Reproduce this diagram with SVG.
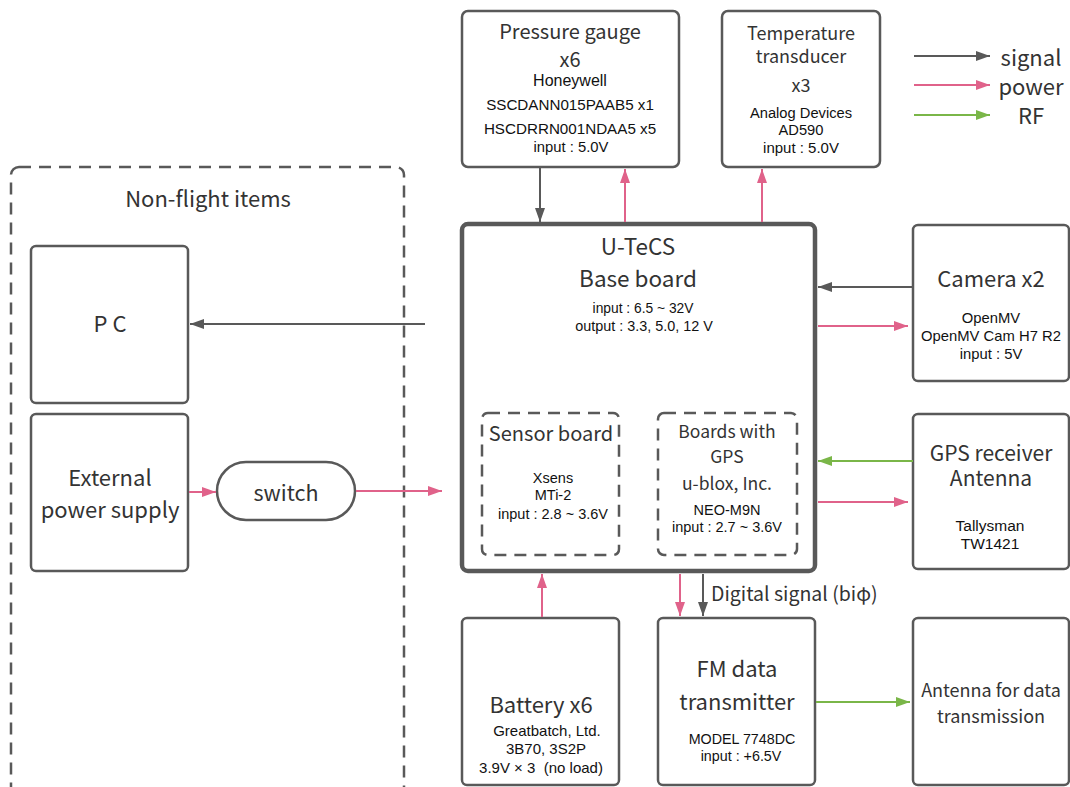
<svg xmlns="http://www.w3.org/2000/svg" width="1070" height="787" viewBox="0 0 1070 787">
<defs>
<marker id="ag" markerWidth="14" markerHeight="10" refX="14" refY="5" orient="auto" markerUnits="userSpaceOnUse"><path d="M0,0 L14,5 L0,10 Z" fill="#595959"/></marker>
<marker id="ap" markerWidth="14" markerHeight="10" refX="14" refY="5" orient="auto" markerUnits="userSpaceOnUse"><path d="M0,0 L14,5 L0,10 Z" fill="#e0628a"/></marker>
<marker id="ar" markerWidth="14" markerHeight="10" refX="14" refY="5" orient="auto" markerUnits="userSpaceOnUse"><path d="M0,0 L14,5 L0,10 Z" fill="#7ab648"/></marker>
</defs>
<style>
.box{fill:#fff;stroke:#595959;stroke-width:2.5}
.thick{fill:#fff;stroke:#595959;stroke-width:4.5}
.dash{fill:none;stroke:#595959;stroke-width:2.5;stroke-dasharray:12 8}
.h{font-family:"Noto Sans CJK JP","Noto Sans",sans-serif;fill:#333;text-anchor:middle}
.s{font-family:"Liberation Sans",Arial,sans-serif;fill:#111;text-anchor:middle;font-size:14.5px}
.sig{stroke:#595959;stroke-width:2;fill:none;marker-end:url(#ag)}
.pow{stroke:#e0628a;stroke-width:2;fill:none;marker-end:url(#ap)}
.rf{stroke:#7ab648;stroke-width:2;fill:none;marker-end:url(#ar)}
</style>
<rect width="1070" height="787" fill="#fff"/>

<g id="nonflight">
<rect class="dash" x="11" y="167" width="393" height="640" rx="8"/>
<text class="h" x="208" y="207" font-size="22">Non-flight items</text>
</g>

<g id="pc">
<rect class="box" x="31" y="246" width="157" height="157" rx="5"/>
<text class="h" x="110" y="332" font-size="22">P C</text>
</g>

<g id="extpower">
<rect class="box" x="31" y="414" width="157" height="157" rx="5"/>
<text class="h" x="110" y="486" font-size="22">External</text>
<text class="h" x="110" y="518" font-size="22">power supply</text>
</g>

<g id="switch">
<rect class="box" x="217" y="462" width="138" height="58" rx="29"/>
<text class="h" x="286" y="501" font-size="21.5">switch</text>
</g>

<g id="pressure">
<rect class="box" x="462" y="11" width="217" height="156" rx="6"/>
<text class="h" x="570" y="39" font-size="20">Pressure gauge</text>
<text class="h" x="570" y="67" font-size="20">x6</text>
<text class="s" x="570" y="86" style="font-size:16px">Honeywell</text>
<text class="s" x="570" y="110" style="font-size:15.2px">SSCDANN015PAAB5 x1</text>
<text class="s" x="570" y="134" style="font-size:15.2px">HSCDRRN001NDAA5 x5</text>
<text class="s" x="571" y="152" style="font-size:14.8px">input : 5.0V</text>
</g>

<g id="temperature">
<rect class="box" x="722" y="11" width="158" height="156" rx="6"/>
<text class="h" x="801" y="40" font-size="18">Temperature</text>
<text class="h" x="801" y="63" font-size="18">transducer</text>
<text class="h" x="801" y="92" font-size="18">x3</text>
<text class="s" x="801" y="118" style="font-size:14.7px">Analog Devices</text>
<text class="s" x="801" y="135" style="font-size:14.7px">AD590</text>
<text class="s" x="801" y="153" style="font-size:15px">input : 5.0V</text>
</g>

<g id="legend">
<line class="sig" x1="914" y1="56" x2="990" y2="56"/>
<line class="pow" x1="914" y1="85" x2="990" y2="85"/>
<line class="rf" x1="914" y1="115" x2="990" y2="115"/>
<text class="h" x="1031" y="66" font-size="22">signal</text>
<text class="h" x="1031" y="95" font-size="22">power</text>
<text class="h" x="1031" y="124" font-size="22">RF</text>
</g>

<g id="baseboard">
<rect class="thick" x="462" y="224" width="353" height="347" rx="6"/>
<text class="h" x="638" y="255" font-size="22.5">U-TeCS</text>
<text class="h" x="638" y="287" font-size="22.5">Base board</text>
<text class="s" x="643" y="313" style="font-size:13.8px">input : 6.5 ~ 32V</text>
<text class="s" x="644" y="331" style="font-size:14.4px">output : 3.3, 5.0, 12 V</text>
</g>

<g id="sensorboard">
<rect class="dash" x="482" y="413" width="137" height="142" rx="6"/>
<text class="h" x="551" y="441" font-size="20">Sensor board</text>
<text class="s" x="553" y="483">Xsens</text>
<text class="s" x="553" y="500">MTi-2</text>
<text class="s" x="553" y="519">input : 2.8 ~ 3.6V</text>
</g>

<g id="gpsboard">
<rect class="dash" x="658" y="413" width="139" height="142" rx="6"/>
<text class="h" x="727" y="438" font-size="17.5">Boards with</text>
<text class="h" x="727" y="463" font-size="17.5">GPS</text>
<text class="h" x="727" y="490" font-size="17.5">u-blox, Inc.</text>
<text class="s" x="727" y="515">NEO-M9N</text>
<text class="s" x="727" y="532">input : 2.7 ~ 3.6V</text>
</g>

<g id="camera">
<rect class="box" x="913" y="225" width="156" height="156" rx="5"/>
<text class="h" x="991" y="287" font-size="22">Camera x2</text>
<text class="s" x="991" y="323" style="font-size:14.8px">OpenMV</text>
<text class="s" x="991" y="341" style="font-size:14.8px">OpenMV Cam H7 R2</text>
<text class="s" x="991" y="359" style="font-size:14.8px">input : 5V</text>
</g>

<g id="gpsantenna">
<rect class="box" x="913" y="414" width="156" height="155" rx="5"/>
<text class="h" x="991" y="461" font-size="21">GPS receiver</text>
<text class="h" x="991" y="486" font-size="21">Antenna</text>
<text class="s" x="990" y="531" style="font-size:15.5px">Tallysman</text>
<text class="s" x="990" y="549" style="font-size:15.5px">TW1421</text>
</g>

<g id="battery">
<rect class="box" x="462" y="618" width="157" height="167" rx="5"/>
<text class="h" x="541" y="713" font-size="22">Battery x6</text>
<text class="s" x="547" y="736" style="font-size:15px">Greatbatch, Ltd.</text>
<text class="s" x="546" y="754" style="font-size:15px">3B70, 3S2P</text>
<text class="s" x="541" y="773" style="font-size:15px" xml:space="preserve">3.9V × 3  (no load)</text>
</g>

<g id="fm">
<rect class="box" x="658" y="618" width="157" height="167" rx="5"/>
<text class="h" x="737" y="677" font-size="22">FM data</text>
<text class="h" x="737" y="710" font-size="22">transmitter</text>
<text class="s" x="742" y="744" style="font-size:14.3px">MODEL 7748DC</text>
<text class="s" x="741" y="761" style="font-size:14.3px">input : +6.5V</text>
</g>

<g id="antenna">
<rect class="box" x="913" y="618" width="156" height="167" rx="5"/>
<text class="h" x="991" y="697" font-size="18">Antenna for data</text>
<text class="h" x="991" y="723" font-size="18">transmission</text>
</g>

<g id="connectors">
<line class="sig" x1="425" y1="324" x2="190" y2="324"/>
<line class="pow" x1="189" y1="492" x2="216" y2="492"/>
<line class="pow" x1="356" y1="491" x2="442" y2="491"/>
<line class="sig" x1="540" y1="168" x2="540" y2="222"/>
<line class="pow" x1="625" y1="222" x2="625" y2="169"/>
<line class="pow" x1="762" y1="222" x2="762" y2="169"/>
<line class="sig" x1="913" y1="287" x2="818" y2="287"/>
<line class="pow" x1="818" y1="326" x2="908" y2="326"/>
<line class="rf" x1="913" y1="461" x2="818" y2="461"/>
<line class="pow" x1="818" y1="502" x2="908" y2="502"/>
<line class="pow" x1="542" y1="617" x2="542" y2="574"/>
<line class="pow" x1="680" y1="574" x2="680" y2="616"/>
<line class="sig" x1="703" y1="574" x2="703" y2="616"/>
<line class="rf" x1="816" y1="702" x2="910" y2="702"/>
<text class="h" x="711" y="601" font-size="19.5" style="text-anchor:start">Digital signal (biφ)</text>
</g>
</svg>
